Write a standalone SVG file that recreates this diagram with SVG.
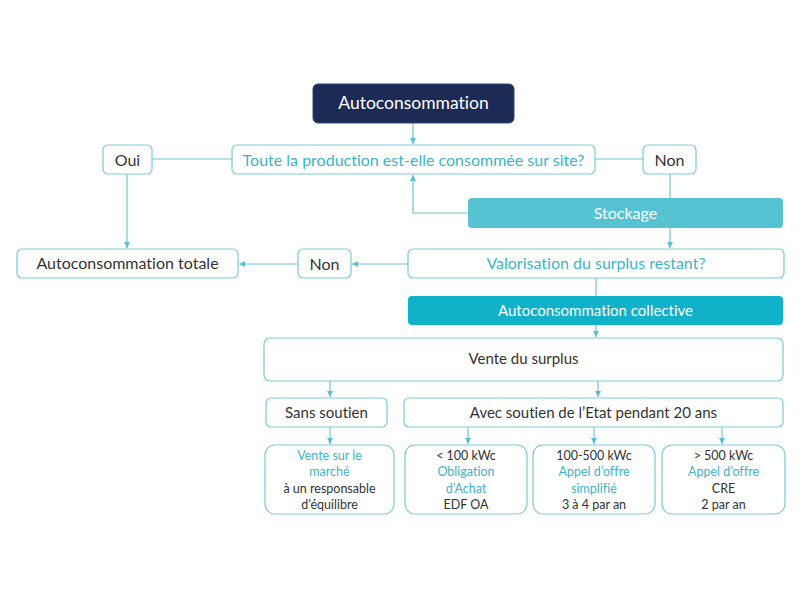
<svg xmlns="http://www.w3.org/2000/svg" width="800" height="600" viewBox="0 0 800 600">
<defs>
<marker id="ah" viewBox="0 0 10 10" refX="10" refY="5" markerWidth="5" markerHeight="5" orient="auto">
<path d="M0,0 L10,5 L0,10 z" fill="#5bbfcf"/>
</marker>
<style>
.b{fill:#fff;stroke:#7ccbd7;stroke-width:1.2}
.t{font-family:Lato,"Open Sans",sans-serif;text-anchor:middle;dominant-baseline:central;font-variant-ligatures:none}
.dk{fill:#333}
.tl{fill:#3db4c7}
.w{fill:#fff}
.c{fill:none;stroke:#6cc5d3;stroke-width:1.2}
.s15{font-size:15px}
.s16{font-size:16px}
.s12{font-size:12.5px}
</style>
</defs>
<rect width="800" height="600" fill="#fff"/>
<g id="connectors">
<path class="c" d="M413,123 V144" marker-end="url(#ah)"/>
<path class="c" d="M152,159 H232"/>
<path class="c" d="M595,159 H643"/>
<path class="c" d="M127,174 V248" marker-end="url(#ah)"/>
<path class="c" d="M670,174 V198"/>
<path class="c" d="M670,228 V248" marker-end="url(#ah)"/>
<path class="c" d="M468,213 H413 V175" marker-end="url(#ah)"/>
<path class="c" d="M298,264 H239" marker-end="url(#ah)"/>
<path class="c" d="M408,264 H352" marker-end="url(#ah)"/>
<path class="c" d="M596,278 V296"/>
<path class="c" d="M596,325 V337" marker-end="url(#ah)"/>
<path class="c" d="M330,381 V397" marker-end="url(#ah)"/>
<path class="c" d="M598,381 V397" marker-end="url(#ah)"/>
<path class="c" d="M330,427 V444" marker-end="url(#ah)"/>
<path class="c" d="M468,427 V444" marker-end="url(#ah)"/>
<path class="c" d="M594,427 V444" marker-end="url(#ah)"/>
<path class="c" d="M722,427 V444" marker-end="url(#ah)"/>
</g>
<g id="n-auto">
<rect x="313" y="84" width="201" height="39" rx="5" fill="#1c2a56" stroke="#2f4a7c" stroke-width="1"/>
<text class="t w" x="413.5" y="102" font-size="17.5">Autoconsommation</text>
</g>
<g id="n-question">
<rect class="b" x="232" y="145" width="363" height="29" rx="5"/>
<text class="t tl s16" x="413.5" y="159">Toute la production est-elle consommée sur site?</text>
</g>
<g id="n-oui">
<rect class="b" x="103" y="145" width="49" height="29" rx="5"/>
<text class="t dk s16" x="127.5" y="159">Oui</text>
</g>
<g id="n-non1">
<rect class="b" x="643" y="145" width="53" height="29" rx="5"/>
<text class="t dk s16" x="669.5" y="159">Non</text>
</g>
<g id="n-stockage">
<rect x="468" y="198" width="315" height="30" rx="4" fill="#56c3d3"/>
<text class="t w s16" x="625.5" y="212.5">Stockage</text>
</g>
<g id="n-totale">
<rect class="b" x="17" y="249" width="221" height="29" rx="5"/>
<text class="t dk s16" x="127.5" y="262.5">Autoconsommation totale</text>
</g>
<g id="n-non2">
<rect class="b" x="298" y="249" width="53" height="29" rx="5"/>
<text class="t dk s16" x="324.5" y="263.5">Non</text>
</g>
<g id="n-valorisation">
<rect class="b" x="408" y="249" width="376" height="29" rx="5"/>
<text class="t tl s16" x="596" y="262.5">Valorisation du surplus restant?</text>
</g>
<g id="n-collective">
<rect x="408" y="296" width="375" height="29" rx="4" fill="#10b1c9"/>
<text class="t w s15" x="595.5" y="309.5">Autoconsommation collective</text>
</g>
<g id="n-vente">
<rect class="b" x="264" y="338" width="519" height="43" rx="6"/>
<text class="t dk s15" x="523.5" y="358">Vente du surplus</text>
</g>
<g id="n-sans">
<rect class="b" x="266" y="398" width="121" height="29" rx="5"/>
<text class="t dk s15" x="326.5" y="412">Sans soutien</text>
</g>
<g id="n-avec">
<rect class="b" x="404" y="398" width="379" height="29" rx="5"/>
<text class="t dk s15" x="593.5" y="412">Avec soutien de l’Etat pendant 20 ans</text>
</g>
<g id="n-marche">
<rect class="b" x="265" y="445" width="129" height="69" rx="10"/>
<text class="t tl s12" x="329.5" y="455">Vente sur le</text>
<text class="t tl s12" x="329.5" y="471.5">marché</text>
<text class="t dk s12" x="329.5" y="488">à un responsable</text>
<text class="t dk s12" x="329.5" y="504">d’équilibre</text>
</g>
<g id="n-oa">
<rect class="b" x="405" y="445" width="122" height="69" rx="10"/>
<text class="t dk s12" x="466" y="455">&lt; 100 kWc</text>
<text class="t tl s12" x="466" y="471.5">Obligation</text>
<text class="t tl s12" x="466" y="488">d’Achat</text>
<text class="t dk s12" x="466" y="504">EDF OA</text>
</g>
<g id="n-simplifie">
<rect class="b" x="533" y="445" width="122" height="69" rx="10"/>
<text class="t dk s12" x="594" y="455">100-500 kWc</text>
<text class="t tl s12" x="594" y="471.5">Appel d’offre</text>
<text class="t tl s12" x="594" y="488">simplifié</text>
<text class="t dk s12" x="594" y="504">3 à 4 par an</text>
</g>
<g id="n-cre">
<rect class="b" x="662" y="445" width="123" height="69" rx="10"/>
<text class="t dk s12" x="723.5" y="455">&gt; 500 kWc</text>
<text class="t tl s12" x="723.5" y="471.5">Appel d’offre</text>
<text class="t dk s12" x="723.5" y="488">CRE</text>
<text class="t dk s12" x="723.5" y="504">2 par an</text>
</g>
</svg>
